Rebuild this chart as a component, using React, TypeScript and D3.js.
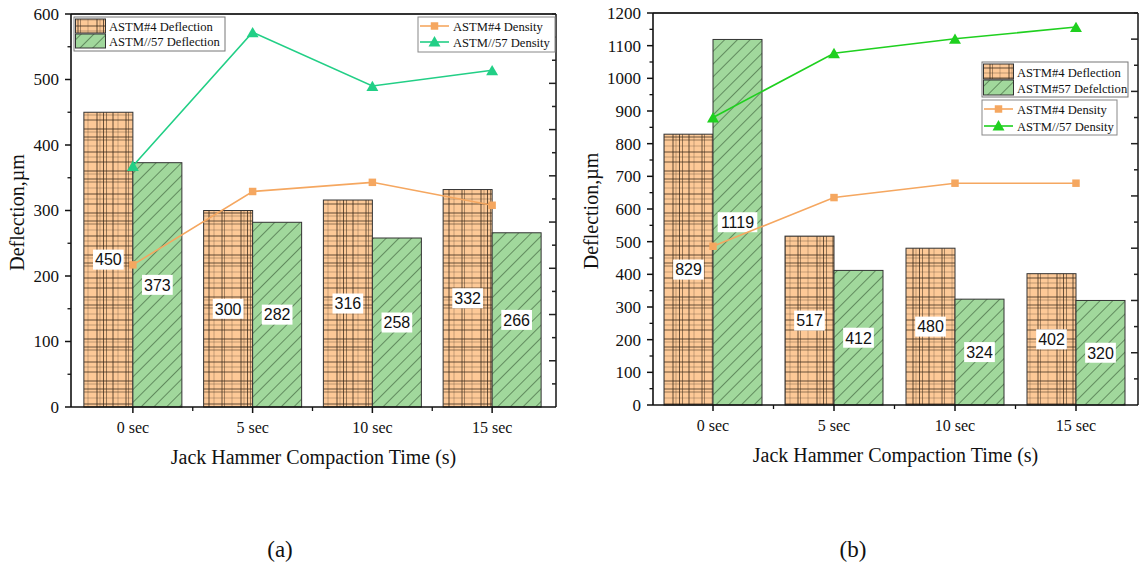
import * as d3 from 'd3';

const categories = ['0 sec', '5 sec', '10 sec', '15 sec'];

// panel (a)
const aDefl4 = [450, 300, 316, 332];
const aDefl57 = [373, 282, 258, 266];
// the density axis carries no labels, so these are read against the deflection axis
const aDens4 = [217, 329, 343, 308];
const aDens57 = [368, 572, 490, 514];
const aTicks = [0, 100, 200, 300, 400, 500, 600];

// panel (b)
const bDefl4 = [829, 517, 480, 402];
const bDefl57 = [1119, 412, 324, 320];
const bDens4 = [486, 635, 679, 679];
const bDens57 = [880, 1077, 1121, 1157];
const bTicks = [0, 100, 200, 300, 400, 500, 600, 700, 800, 900, 1000, 1100, 1200];

const ORANGE = '#fdc997';
const GREEN = '#a1d89c';
const LINE4 = '#f5a760';
const SERIF = '"Times New Roman", "Liberation Serif", serif';
const SANS = 'Arial, "Liberation Sans", sans-serif';

type LegendBox = { x: number; y: number; w: number; h: number; rowH: number; labels: string[] };

type PanelProps = {
  id: string;
  left: number;
  right: number;
  top: number;
  bottom: number;
  xr: [number, number];
  ticks: number[];
  defl4: number[];
  defl57: number[];
  dens4: number[];
  dens57: number[];
  dens57Color: string;
  rightSteps: number;
  titleOffset: number;
  barLegend: LegendBox;
  lineLegend: LegendBox;
  caption: string;
  captionX: number;
};

function Patterns() {
  const W = 48;
  const H = 42;
  const vLines = [
    { x: 1, o: 0.9 }, { x: 4, o: 0.35 }, { x: 7.5, o: 0.85 }, { x: 10.5, o: 0.6 },
    { x: 17, o: 0.9 }, { x: 22, o: 0.3 }, { x: 30, o: 0.85 }, { x: 32.5, o: 0.5 }, { x: 40, o: 0.3 },
  ];
  const hLines = [
    { y: 3, o: 0.9 }, { y: 6, o: 0.35 }, { y: 11, o: 0.85 }, { y: 14, o: 0.6 },
    { y: 20, o: 0.3 }, { y: 26, o: 0.9 }, { y: 31, o: 0.35 }, { y: 36, o: 0.85 },
  ];
  return (
    <defs>
      <pattern id="plaid" patternUnits="userSpaceOnUse" width={W} height={H}>
        <rect width={W} height={H} fill={ORANGE} />
        {vLines.map((l, i) => (
          <line key={'v' + i} x1={l.x} x2={l.x} y1={0} y2={H} stroke="#3a2a1a" strokeOpacity={l.o} strokeWidth={0.9} />
        ))}
        {hLines.map((l, i) => (
          <line key={'h' + i} x1={0} x2={W} y1={l.y} y2={l.y} stroke="#3a2a1a" strokeOpacity={l.o} strokeWidth={0.9} />
        ))}
      </pattern>
      <pattern id="hatch" patternUnits="userSpaceOnUse" width={9} height={9} patternTransform="rotate(45)">
        <rect width={9} height={9} fill={GREEN} />
        <line x1={0} x2={0} y1={0} y2={9} stroke="#1d3a1d" strokeOpacity={0.75} strokeWidth={1.3} />
      </pattern>
    </defs>
  );
}

function Panel(p: PanelProps) {
  const x = d3.scalePoint<string>().domain(categories).range(p.xr).padding(0.5);
  const step = x.step();
  const sub = d3.scaleBand<string>().domain(['s4', 's57']).range([-49, 49]);
  const yMax = p.ticks[p.ticks.length - 1];
  const y = d3.scaleLinear().domain([0, yMax]).range([p.bottom, p.top]);
  const yR = d3.scaleLinear().domain([0, p.rightSteps]).range([p.bottom, p.top]);
  const minor = d3.range(50, yMax, 100);
  const rightTicks = d3.range(1, Math.floor(p.rightSteps) + 1);
  const bounds = d3.range(1, categories.length).map((i) => x(categories[0])! - step / 2 + i * step);

  const line = d3
    .line<number>()
    .x((_, i) => x(categories[i])!)
    .y((d) => y(d));
  const sq = d3.symbol(d3.symbolSquare, 56)()!;
  const tri = d3.symbol(d3.symbolTriangle, 62)()!;

  const bars = [
    { key: 's4', vals: p.defl4, fill: 'url(#plaid)' },
    { key: 's57', vals: p.defl57, fill: 'url(#hatch)' },
  ];

  const lab = (v: number, cx: number) => {
    const t = String(v);
    const w = t.length * 8.9 + 4;
    const cy = y(v / 2);
    return (
      <g key={`${cx}-${v}`}>
        <rect x={cx - w / 2} y={cy - 10} width={w} height={20} fill="#fff" />
        <text x={cx} y={cy + 5.8} textAnchor="middle" fontFamily={SANS} fontSize={16} fill="#111">
          {t}
        </text>
      </g>
    );
  };

  const bl = p.barLegend;
  const ll = p.lineLegend;

  return (
    <g>
      {/* bars */}
      {bars.map((s) =>
        s.vals.map((v, i) => (
          <rect
            key={s.key + i}
            x={x(categories[i])! + sub(s.key)!}
            y={y(v)}
            width={sub.bandwidth()}
            height={p.bottom - y(v)}
            fill={s.fill}
            stroke="#333"
            strokeWidth={1}
          />
        ))
      )}
      {/* value labels */}
      {bars.map((s) => s.vals.map((v, i) => lab(v, x(categories[i])! + sub(s.key)! + sub.bandwidth() / 2)))}

      {/* density lines */}
      <path d={line(p.dens4)!} fill="none" stroke={LINE4} strokeWidth={1.6} />
      {p.dens4.map((v, i) => (
        <path key={'m4' + i} d={sq} transform={`translate(${x(categories[i])},${y(v)})`} fill={LINE4} />
      ))}
      <path d={line(p.dens57)!} fill="none" stroke={p.dens57Color} strokeWidth={1.6} />
      {p.dens57.map((v, i) => (
        <path key={'m57' + i} d={tri} transform={`translate(${x(categories[i])},${y(v) + 1.5})`} fill={p.dens57Color} />
      ))}

      {/* frame */}
      <line x1={p.left} x2={p.right} y1={p.top} y2={p.top} stroke="#333" strokeWidth={1.8} />
      <line x1={p.right} x2={p.right} y1={p.top} y2={p.bottom} stroke="#222" strokeWidth={1.6} />
      {rightTicks.map((t) => (
        <line key={'r' + t} x1={p.right} x2={p.right - (t % 2 === 0 ? 7 : 4)} y1={yR(t)} y2={yR(t)} stroke="#222" strokeWidth={1.5} />
      ))}

      {/* left axis */}
      <line x1={p.left} x2={p.left} y1={p.top} y2={p.bottom} stroke="#111" strokeWidth={1.6} />
      {p.ticks.map((t) => (
        <g key={'y' + t}>
          <line x1={p.left} x2={p.left - 6} y1={y(t)} y2={y(t)} stroke="#111" strokeWidth={1.5} />
          <text x={p.left - 12} y={y(t)} dy="0.35em" textAnchor="end" fontFamily={SERIF} fontSize={17} fill="#111">
            {t}
          </text>
        </g>
      ))}
      {minor.map((t) => (
        <line key={'ym' + t} x1={p.left} x2={p.left - 3.5} y1={y(t)} y2={y(t)} stroke="#111" strokeWidth={1.3} />
      ))}

      {/* bottom axis */}
      <line x1={p.left} x2={p.right} y1={p.bottom} y2={p.bottom} stroke="#111" strokeWidth={1.6} />
      {categories.map((c) => (
        <g key={c}>
          <line x1={x(c)} x2={x(c)} y1={p.bottom} y2={p.bottom + 6} stroke="#111" strokeWidth={1.5} />
          <text x={x(c)} y={p.bottom + 26} textAnchor="middle" fontFamily={SERIF} fontSize={16} fill="#111">
            {c}
          </text>
        </g>
      ))}
      {bounds.map((b) => (
        <line key={'b' + b} x1={b} x2={b} y1={p.bottom} y2={p.bottom + 4} stroke="#111" strokeWidth={1.3} />
      ))}

      {/* titles */}
      <text
        x={(p.left + p.right) / 2}
        y={p.bottom + 57}
        textAnchor="middle"
        fontFamily={SERIF}
        fontSize={20}
        fill="#111"
      >
        Jack Hammer Compaction Time (s)
      </text>
      <text
        transform={`translate(${p.left - p.titleOffset},${(p.top + p.bottom) / 2 + 2}) rotate(-90)`}
        textAnchor="middle"
        fontFamily={SERIF}
        fontSize={20}
        fill="#111"
      >
        Deflection,µm
      </text>
      <text x={p.captionX} y={557} textAnchor="middle" fontFamily={SERIF} fontSize={23} fill="#111">
        {p.caption}
      </text>

      {/* bar legend */}
      <rect x={bl.x} y={bl.y} width={bl.w} height={bl.h} fill="#fff" stroke="#777" strokeWidth={1} />
      {bl.labels.map((t, i) => (
        <g key={t}>
          <rect
            x={bl.x + 1.5}
            y={bl.y + 2 + i * bl.rowH}
            width={30}
            height={bl.rowH - 1}
            fill={i === 0 ? 'url(#plaid)' : 'url(#hatch)'}
            stroke="#333"
            strokeWidth={1}
          />
          <text x={bl.x + 35} y={bl.y + 2 + i * bl.rowH + bl.rowH / 2 + 4.5} fontFamily={SERIF} fontSize={12.6} fill="#111">
            {t}
          </text>
        </g>
      ))}

      {/* line legend */}
      <rect x={ll.x} y={ll.y} width={ll.w} height={ll.h} fill="#fff" stroke="#888" strokeWidth={1} />
      {ll.labels.map((t, i) => {
        const cy = ll.y + 9 + i * ll.rowH;
        const col = i === 0 ? LINE4 : p.dens57Color;
        return (
          <g key={t}>
            <line x1={ll.x + 2} x2={ll.x + 31} y1={cy} y2={cy} stroke={col} strokeWidth={1.6} />
            <path d={i === 0 ? sq : tri} transform={`translate(${ll.x + 16.5},${cy + (i === 0 ? 0 : 1)})`} fill={col} />
            <text x={ll.x + 35} y={cy + 4.5} fontFamily={SERIF} fontSize={12.6} fill="#111">
              {t}
            </text>
          </g>
        );
      })}
    </g>
  );
}

export default function App() {
  return (
    <svg width={1140} height={567} style={{ position: 'absolute', left: 0, top: 0, background: '#fff' }}>
      <Patterns />
      <Panel
        id="a"
        left={71}
        right={556}
        top={14}
        bottom={407}
        xr={[73, 552]}
        ticks={aTicks}
        defl4={aDefl4}
        defl57={aDefl57}
        dens4={aDens4}
        dens57={aDens57}
        dens57Color="#22cf86"
        rightSteps={17}
        titleOffset={47}
        barLegend={{ x: 74, y: 17, w: 151, h: 34, rowH: 15, labels: ['ASTM#4 Deflection', 'ASTM//57 Deflection'] }}
        lineLegend={{ x: 418, y: 17, w: 137, h: 35, rowH: 16, labels: ['ASTM#4 Density', 'ASTM//57 Density'] }}
        caption="(a)"
        captionX={280}
      />
      <Panel
        id="b"
        left={653}
        right={1138}
        top={13}
        bottom={405}
        xr={[652.5, 1136.5]}
        ticks={bTicks}
        defl4={bDefl4}
        defl57={bDefl57}
        dens4={bDens4}
        dens57={bDens57}
        dens57Color="#1fd01f"
        rightSteps={15}
        titleOffset={55}
        barLegend={{ x: 982, y: 62, w: 146, h: 35, rowH: 16, labels: ['ASTM#4 Deflection', 'ASTM#57 Defelction'] }}
        lineLegend={{ x: 982, y: 100, w: 135, h: 35, rowH: 17, labels: ['ASTM#4 Density', 'ASTM//57 Density'] }}
        caption="(b)"
        captionX={853}
      />
    </svg>
  );
}
